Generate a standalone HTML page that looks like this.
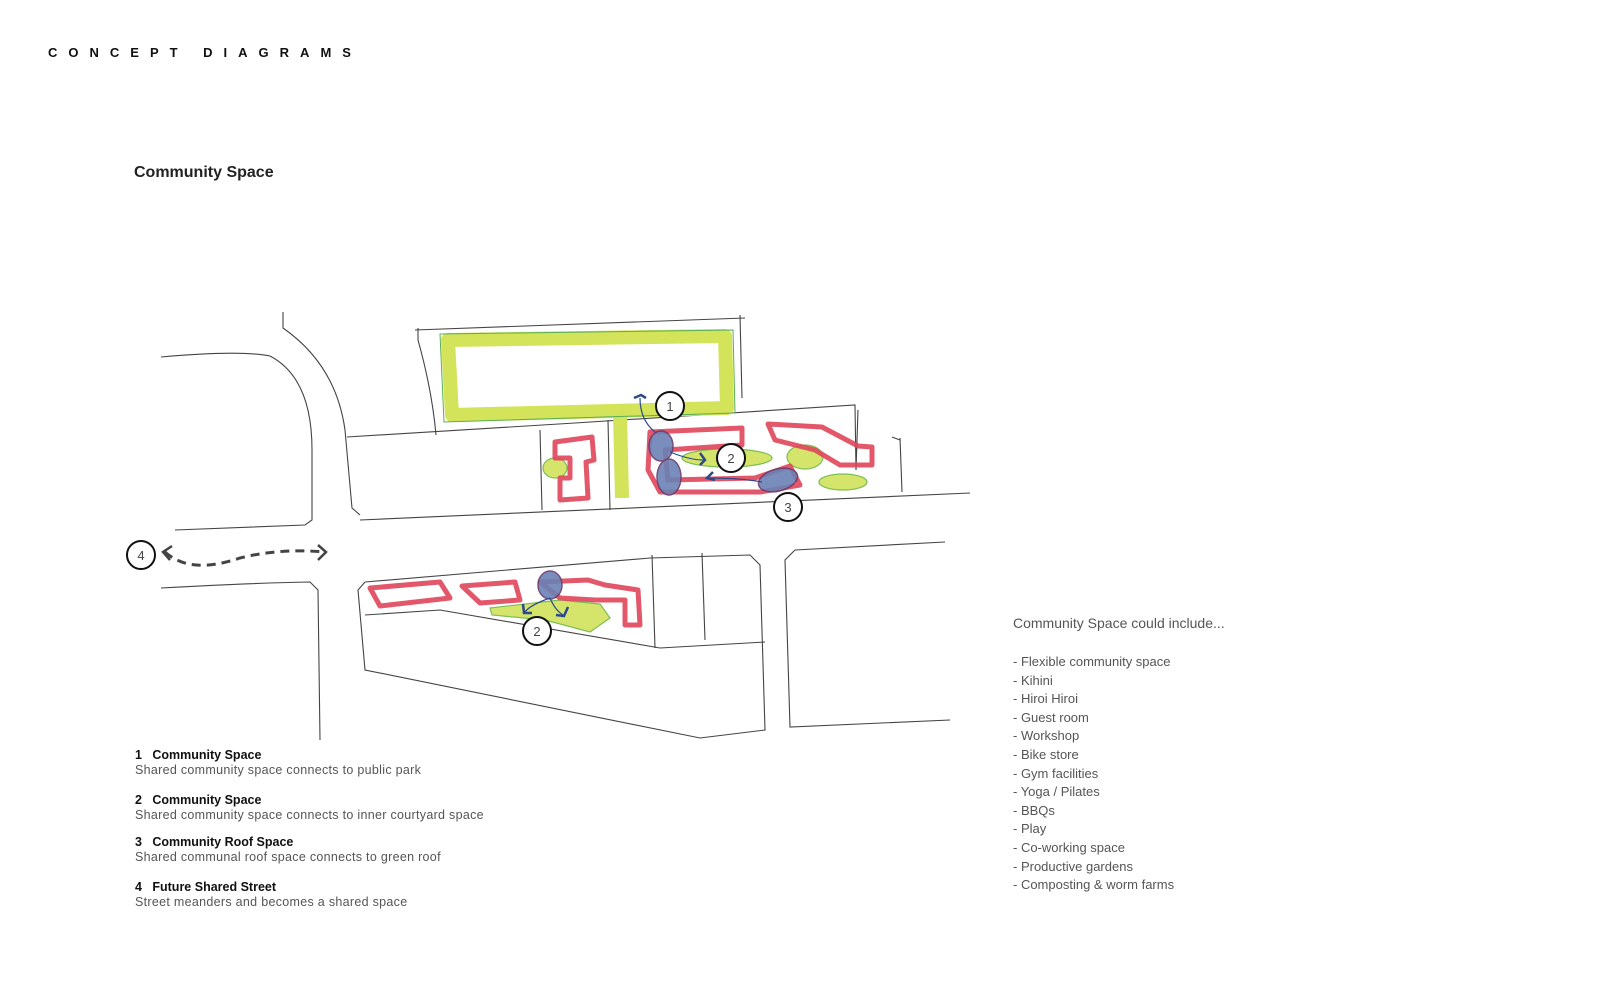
<!DOCTYPE html>
<html><head><meta charset="utf-8"><style>
html,body{margin:0;padding:0;background:#fff;}
body{width:1600px;height:1000px;position:relative;overflow:hidden;font-family:"Liberation Sans",sans-serif;}
.t{position:absolute;white-space:nowrap;}
.h{left:48px;top:45px;font-size:13px;font-weight:bold;letter-spacing:11px;color:#111;}
.cs{left:134px;top:164px;font-size:16px;font-weight:bold;color:#222;}
.leg{left:135px;font-size:12.5px;color:#555;line-height:15px;letter-spacing:0.3px;}
.leg b{color:#111;letter-spacing:0;}
.lst{left:1013px;font-size:13px;color:#555;line-height:18.6px;}
</style></head><body>
<div class="t h">CONCEPT DIAGRAMS</div>
<div class="t cs">Community Space</div>
<svg width="1600" height="1000" style="position:absolute;left:0;top:0" fill="none">
<g stroke="#444" stroke-width="1.1">
<path d="M161 357 Q240 350 270 356 Q312 378 312 450 L312 520 L305 525 L175 530"/>
<path d="M283 312 L283 328 Q336 365 345 430 L352 508 L360 515"/>
<path d="M347 437 L575 423"/>
<path d="M418 328 L418 340 Q432 390 436 435"/>
<path d="M415 330 L745 318"/>
<path d="M360 520 L970 493"/>
<path d="M540 430 L542 510"/><path d="M608 420 L610 510"/>
<path d="M740 315 L742 398"/>
<path d="M575 423 L855 405 L856 470 L858 410"/>
<path d="M900 438 L902 492"/><path d="M892 437 L900 440"/>
<path d="M161 588 Q250 583 310 582 L318 590 L320 740"/>
<path d="M365 582 L650 558 L750 555 L760 565 L765 730 L700 738 L365 670 L358 590 L365 582"/>
<path d="M365 615 L440 610 L660 648 L765 642"/>
<path d="M652 555 L655 648"/><path d="M702 553 L705 640"/>
<path d="M795 550 L945 542"/>
<path d="M795 550 L785 560 L790 727 L950 720"/>
</g>
<g stroke="#d3e35a" stroke-width="14" stroke-linejoin="round">
<path d="M448 340 L725 336 L727 408 L452 415 Z"/>
<path d="M620 415 L622 498"/>
</g>
<g stroke="#5aae55" stroke-width="1" fill="none">
<path d="M440 334 L733 330 L735 413 L444 422 Z"/>
</g>
<g fill="#d5e46a" stroke="#7cbf55" stroke-width="1.2">
<ellipse cx="555" cy="468" rx="12" ry="10"/>
<ellipse cx="727" cy="458" rx="45" ry="9"/>
<ellipse cx="805" cy="457" rx="18" ry="12"/>
<ellipse cx="843" cy="482" rx="24" ry="8"/>
<path d="M490 608 L560 600 L600 604 L610 618 L590 632 L545 620 L492 615 Z"/>
</g>
<g stroke="#e0455a" stroke-width="5" stroke-linejoin="round" opacity="0.9">
<path d="M555 442 L592 437 L594 460 L586 462 L588 498 L560 500 L560 478 L570 478 L570 458 L555 458 Z"/>
<path d="M650 432 L742 428 L742 445 L665 450 L668 480 L755 478 L790 466 L800 485 L760 492 L660 492 L648 470 Z"/>
<path d="M768 424 L822 427 L858 446 L872 447 L872 465 L840 465 L815 450 L775 440 Z"/>
<path d="M370 588 L440 582 L450 598 L380 606 Z"/>
<path d="M462 586 L515 582 L520 600 L480 603 Z"/>
<path d="M540 582 L588 580 L605 585 L638 590 L640 625 L625 625 L625 600 L595 600 L560 598 Z"/>
</g>
<g fill="#6b82b5" stroke="#6a3c6e" stroke-width="1.5" opacity="0.9">
<ellipse cx="661" cy="446" rx="12" ry="15"/>
<ellipse cx="669" cy="477" rx="12" ry="18"/>
<ellipse cx="778" cy="480" rx="20" ry="11" transform="rotate(-15 778 480)"/>
<ellipse cx="550" cy="585" rx="12" ry="14"/>
</g>
<g stroke="#2c4a8a" stroke-width="1.2">
<path d="M655 432 Q640 420 640 398"/><path d="M634 398 L641 395 L646 398" stroke-width="2.5"/>
<path d="M670 452 Q690 460 703 460"/><path d="M700 453 L705 460 L700 465" stroke-width="2.5"/>
<path d="M762 482 Q740 478 708 478"/><path d="M713 472 L707 478 L715 480" stroke-width="2.5"/>
<path d="M550 598 Q530 605 525 612"/><path d="M523 604 L524 613 L532 613" stroke-width="2.5"/>
<path d="M550 598 Q555 610 563 615"/><path d="M568 607 L564 616 L556 615" stroke-width="2.5"/>
</g>
<path d="M165 552 Q190 575 240 558 Q280 548 325 552" stroke="#444" stroke-width="3" stroke-dasharray="9 6"/>
<path d="M172 546 L163 552 L170 560 M318 545 L326 552 L318 560" stroke="#444" stroke-width="2.5"/>
<g stroke="#111" stroke-width="2" fill="#fff">
<circle cx="670" cy="406" r="14"/><circle cx="731" cy="458" r="14"/>
<circle cx="788" cy="507" r="14"/><circle cx="141" cy="555" r="14"/>
<circle cx="537" cy="631" r="14"/>
</g>
<g font-family="Liberation Sans,sans-serif" font-size="13" fill="#444" text-anchor="middle">
<text x="670" y="411">1</text><text x="731" y="463">2</text><text x="788" y="512">3</text>
<text x="141" y="560">4</text><text x="537" y="636">2</text>
</g>
</svg>
<div class="t leg" style="top:748px"><b>1&nbsp;&nbsp;&nbsp;Community Space</b><br>Shared community space connects to public park</div>
<div class="t leg" style="top:793px"><b>2&nbsp;&nbsp;&nbsp;Community Space</b><br>Shared community space connects to inner courtyard space</div>
<div class="t leg" style="top:835px"><b>3&nbsp;&nbsp;&nbsp;Community Roof Space</b><br>Shared communal roof space connects to green roof</div>
<div class="t leg" style="top:880px"><b>4&nbsp;&nbsp;&nbsp;Future Shared Street</b><br>Street meanders and becomes a shared space</div>
<div class="t lst" style="top:614px;font-size:14px">Community Space could include...</div>
<div class="t lst" style="top:653px">- Flexible community space<br>- Kihini<br>- Hiroi Hiroi<br>- Guest room<br>- Workshop<br>- Bike store<br>- Gym facilities<br>- Yoga / Pilates<br>- BBQs<br>- Play<br>- Co-working space<br>- Productive gardens<br>- Composting &amp; worm farms</div>
</body></html>
